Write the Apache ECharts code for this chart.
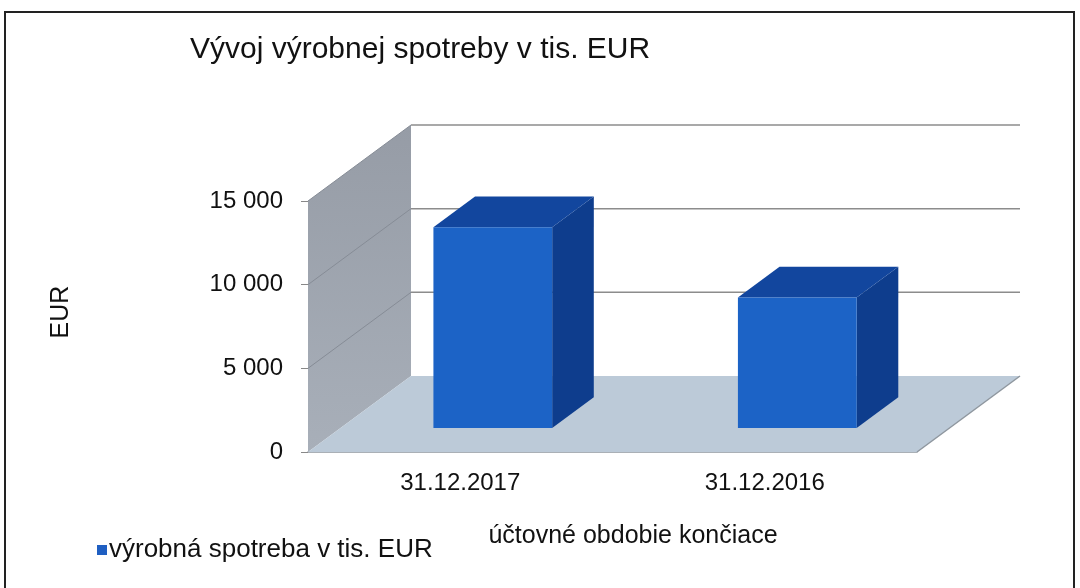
<html>
<head>
    <meta charset="utf-8">
    <title>Vývoj výrobnej spotreby</title>
    <script src="https://cdn.jsdelivr.net/npm/echarts@6/dist/echarts.min.js"></script>
    <style>
        html, body { margin: 0; padding: 0; background: #fff; }
        #main { width: 1080px; height: 588px; }
    </style>
</head>
<body>
<div id="main"></div>
<script>
    // údaje z grafu
    var categories = ['31.12.2017', '31.12.2016'];
    var values = [12000, 7800];
    var yTicks = [0, 5000, 10000, 15000];
    var seriesName = 'výrobná spotreba v tis. EUR';

    // 3D vzhľad: posun hĺbky (px) a poloha stĺpca v hĺbke
    var DEPTH = [103, -76];
    var F0 = 0.316, F1 = 0.72;
    var FONT = 'Liberation Sans, Arial, sans-serif';

    function fmt(v) {
        return String(v).replace(/\B(?=(\d{3})+(?!\d))/g, ' ');
    }

    var myChart = echarts.init(document.getElementById('main'));

    // steny a podlaha
    function renderWalls(params, api) {
        var cs = params.coordSys;
        var L = cs.x, R = cs.x + cs.width;
        var y0 = api.coord([0, 0])[1];
        var yTop = api.coord([0, yTicks[yTicks.length - 1]])[1];
        var dx = DEPTH[0], dy = DEPTH[1];
        var kids = [];
        kids.push({
            type: 'polygon',
            shape: {points: [[L, y0], [L, yTop], [L + dx, yTop + dy], [L + dx, y0 + dy]]},
            style: {
                fill: new echarts.graphic.LinearGradient(0, 0, 0, 1, [
                    {offset: 0, color: '#969ca6'},
                    {offset: 1, color: '#a8afb9'}
                ])
            }
        });
        kids.push({
            type: 'polygon',
            shape: {points: [[L, y0], [R, y0], [R + dx, y0 + dy], [L + dx, y0 + dy]]},
            style: {fill: '#bccad8'}
        });
        kids.push({
            type: 'line',
            shape: {x1: R, y1: y0, x2: R + dx, y2: y0 + dy},
            style: {stroke: '#8f979f', lineWidth: 1.5}
        });
        yTicks.forEach(function (t) {
            var y = api.coord([0, t])[1];
            if (t > 0) {
                kids.push({
                    type: 'line',
                    shape: {x1: L + dx, y1: y + dy, x2: R + dx, y2: y + dy},
                    style: {stroke: '#8c8c8c', lineWidth: 1.5}
                });
                kids.push({
                    type: 'line',
                    shape: {x1: L, y1: y, x2: L + dx, y2: y + dy},
                    style: {stroke: '#868c96', lineWidth: 1}
                });
            }
        });
        return {type: 'group', children: kids};
    }

    // 3D stĺpce
    function renderBar(params, api) {
        var base = api.coord([api.value(0), 0]);
        var top = api.coord([api.value(0), api.value(1)]);
        var bw = api.size([1, 0])[0] * 0.39;
        var ox = DEPTH[0] * F0, oy = DEPTH[1] * F0;
        var dx = DEPTH[0] * (F1 - F0), dy = DEPTH[1] * (F1 - F0);
        var x0 = base[0] - bw / 2 + ox, x1 = x0 + bw;
        var yb = base[1] + oy, yt = top[1] + oy;
        return {
            type: 'group',
            children: [
                {
                    type: 'polygon',
                    shape: {points: [[x1, yt], [x1 + dx, yt + dy], [x1 + dx, yb + dy], [x1, yb]]},
                    style: {fill: '#0e3d8d'}
                },
                {
                    type: 'polygon',
                    shape: {points: [[x0, yt], [x1, yt], [x1 + dx, yt + dy], [x0 + dx, yt + dy]]},
                    style: {fill: '#12469e'}
                },
                {
                    type: 'rect',
                    shape: {x: x0, y: yt, width: bw, height: yb - yt},
                    style: {fill: '#1c63c6'}
                }
            ]
        };
    }

    var option = {
        animation: false,
        backgroundColor: '#fff',
        title: {
            text: 'Vývoj výrobnej spotreby v tis. EUR',
            left: 190,
            top: 35,
            padding: 0,
            textStyle: {fontFamily: FONT, fontSize: 30, fontWeight: 'normal', color: '#111'}
        },
        legend: {
            data: [seriesName],
            left: 97,
            top: 537,
            padding: 0,
            icon: 'rect',
            itemWidth: 10,
            itemHeight: 10,
            textStyle: {fontFamily: FONT, fontSize: 26, color: '#111', padding: [0, 0, 0, -3]}
        },
        grid: {left: 308, top: 201, width: 609, height: 251},
        xAxis: {
            type: 'category',
            data: categories,
            axisLine: {lineStyle: {color: '#8f979f', width: 1.5}},
            axisTick: {show: false},
            axisLabel: {margin: 19, fontFamily: FONT, fontSize: 24, color: '#111'}
        },
        yAxis: {
            type: 'value',
            min: 0,
            max: 15000,
            interval: 5000,
            axisLine: {show: false},
            axisTick: {show: true, length: 7, lineStyle: {color: '#888'}},
            splitLine: {show: false},
            axisLabel: {margin: 25, fontFamily: FONT, fontSize: 24, color: '#111', formatter: fmt}
        },
        graphic: [
            {
                type: 'rect',
                z: -10,
                shape: {x: 5, y: 12, width: 1069, height: 600},
                style: {fill: 'none', stroke: '#222', lineWidth: 2}
            },
            {
                type: 'text',
                x: 61, y: 312,
                rotation: Math.PI / 2,
                style: {text: 'EUR', font: '25px ' + FONT, fill: '#111', align: 'center', verticalAlign: 'middle'}
            },
            {
                type: 'text',
                x: 633, y: 536,
                style: {text: 'účtovné obdobie končiace', font: '25px ' + FONT, fill: '#111', align: 'center', verticalAlign: 'middle'}
            }
        ],
        series: [
            {
                name: 'walls',
                type: 'custom',
                clip: false,
                silent: true,
                z: 1,
                renderItem: renderWalls,
                data: [[0, 0]]
            },
            {
                name: seriesName,
                type: 'custom',
                clip: false,
                z: 2,
                itemStyle: {color: '#1f5fc2'},
                renderItem: renderBar,
                encode: {x: 0, y: 1},
                data: categories.map(function (c, i) { return [i, values[i]]; })
            }
        ]
    };

    myChart.setOption(option);
</script>
</body>
</html>
